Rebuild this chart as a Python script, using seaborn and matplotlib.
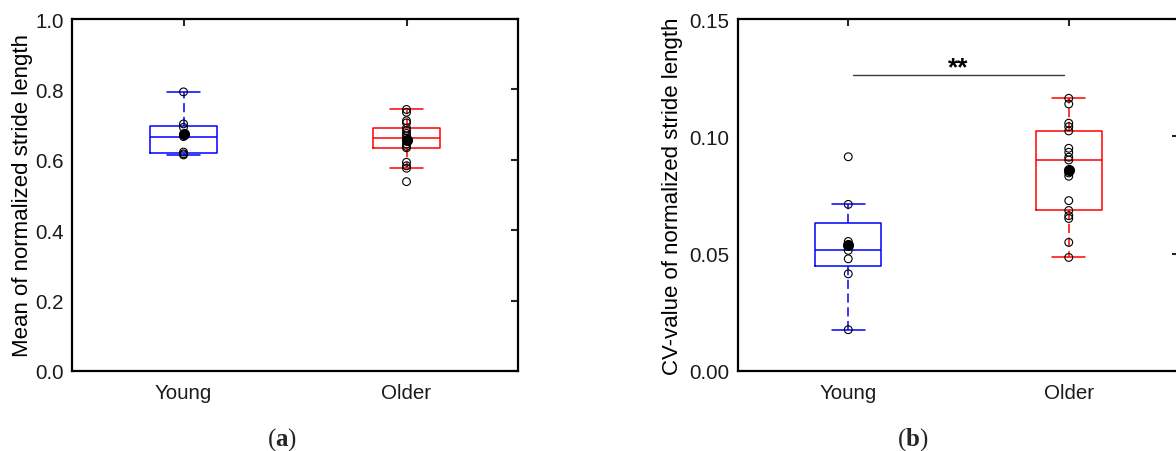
import matplotlib
matplotlib.use("Agg")
import matplotlib.pyplot as plt
import numpy as np
import pandas as pd
import seaborn as sns

# Groups and box colours
groups = ["Young", "Older"]
group_colors = ["#0000ff", "#ff0000"]

# (a) mean of normalized stride length, one value per subject
mean_young = [0.614, 0.617, 0.622, 0.666, 0.692, 0.702, 0.793]
mean_older = [0.538, 0.576, 0.583, 0.593, 0.634, 0.638, 0.645, 0.654, 0.662,
              0.668, 0.675, 0.683, 0.690, 0.705, 0.711, 0.735, 0.743]

# (b) CV-value of normalized stride length, one value per subject
cv_young = [0.0176, 0.0414, 0.0478, 0.0514, 0.0552, 0.0710, 0.0913]
cv_older = [0.0484, 0.0548, 0.0650, 0.0662, 0.0684, 0.0726, 0.0830, 0.0844,
            0.0899, 0.0911, 0.0932, 0.0949, 0.1023, 0.1041, 0.1056, 0.1138,
            0.1162]

yticks_a = [0.0, 0.2, 0.4, 0.6, 0.8, 1.0]
yticks_b = [0.00, 0.05, 0.10, 0.15]
ylabel_a = "Mean of normalized stride length"
ylabel_b = "CV-value of normalized stride length"
captions = ["a", "b"]
sig_text = "**"
sig_level = 0.1263

sns.set_style("white")
plt.rcParams["font.family"] = ["Liberation Sans", "DejaVu Sans"]
plt.rcParams["mathtext.fontset"] = "custom"
plt.rcParams["mathtext.rm"] = "Liberation Serif"
plt.rcParams["mathtext.bf"] = "Liberation Serif:bold"

text_color = "#1a1a1a"
W, H = 1176, 452
fig = plt.figure(figsize=(W / 100, H / 100), dpi=100)


def px_axes(left, top, right, bottom):
    return fig.add_axes([left / W, 1 - bottom / H, (right - left) / W, (bottom - top) / H])


def draw_panel(ax, young, older, ylim, yticks, fmt, ylabel, label_x):
    df = pd.DataFrame({
        "group": ["Young"] * len(young) + ["Older"] * len(older),
        "value": young + older,
    })
    palette = dict(zip(groups, group_colors))
    sns.boxplot(data=df, x="group", y="value", hue="group", order=groups,
                hue_order=groups, palette=palette, fill=False, width=0.3,
                whis=1.5, showfliers=False, linewidth=1.1, legend=False,
                whiskerprops={"linestyle": (0, (6, 3))}, ax=ax)
    sns.stripplot(data=df, x="group", y="value", order=groups, jitter=False,
                  size=5.6, marker="o", facecolor="none", edgecolor="black",
                  linewidth=0.8, ax=ax, zorder=3)
    sns.pointplot(data=df, x="group", y="value", order=groups,
                  estimator="mean", errorbar=None, linestyle="none",
                  marker="o", color="black", markersize=6, ax=ax, zorder=4)
    ax.set_xlim(-0.5, 1.5)
    ax.set_ylim(*ylim)
    ax.set_yticks(yticks)
    ax.set_yticklabels([fmt.format(t) for t in yticks])
    ax.set_xlabel("")
    ax.set_ylabel(ylabel, fontsize=16, color="black")
    ax.yaxis.set_label_coords(label_x, 0.5)
    ax.tick_params(axis="both", direction="in", length=5, width=1.5,
                   top=True, right=True, labelsize=14.8, labelcolor=text_color)
    ax.tick_params(axis="y", pad=6)
    ax.tick_params(axis="x", pad=9)
    for s in ax.spines.values():
        s.set_visible(True)
        s.set_linewidth(1.6)
        s.set_color("black")


ax_a = px_axes(72, 20, 518, 372)
draw_panel(ax_a, mean_young, mean_older, (0, 1.0), yticks_a, "{:.1f}",
           ylabel_a, -0.087)

ax_b = px_axes(738, 20, 1179, 372)
draw_panel(ax_b, cv_young, cv_older, (0, 0.15), yticks_b, "{:.2f}",
           ylabel_b, -0.124)

# significance bracket between the groups
ax_b.plot([0.02, 0.98], [sig_level, sig_level], color="#3a3a3a", lw=1.0)
ax_b.text(0.5, sig_level, sig_text, ha="center", va="baseline",
          fontsize=19, fontweight="bold", color="black")

for cx, cap in zip([282, 913], captions):
    fig.text(cx / W, 1 - 440 / H, r"($\mathbf{%s}$)" % cap, ha="center",
             va="center", fontsize=18, family="Liberation Serif")

fig.savefig("out.png", dpi=100)
